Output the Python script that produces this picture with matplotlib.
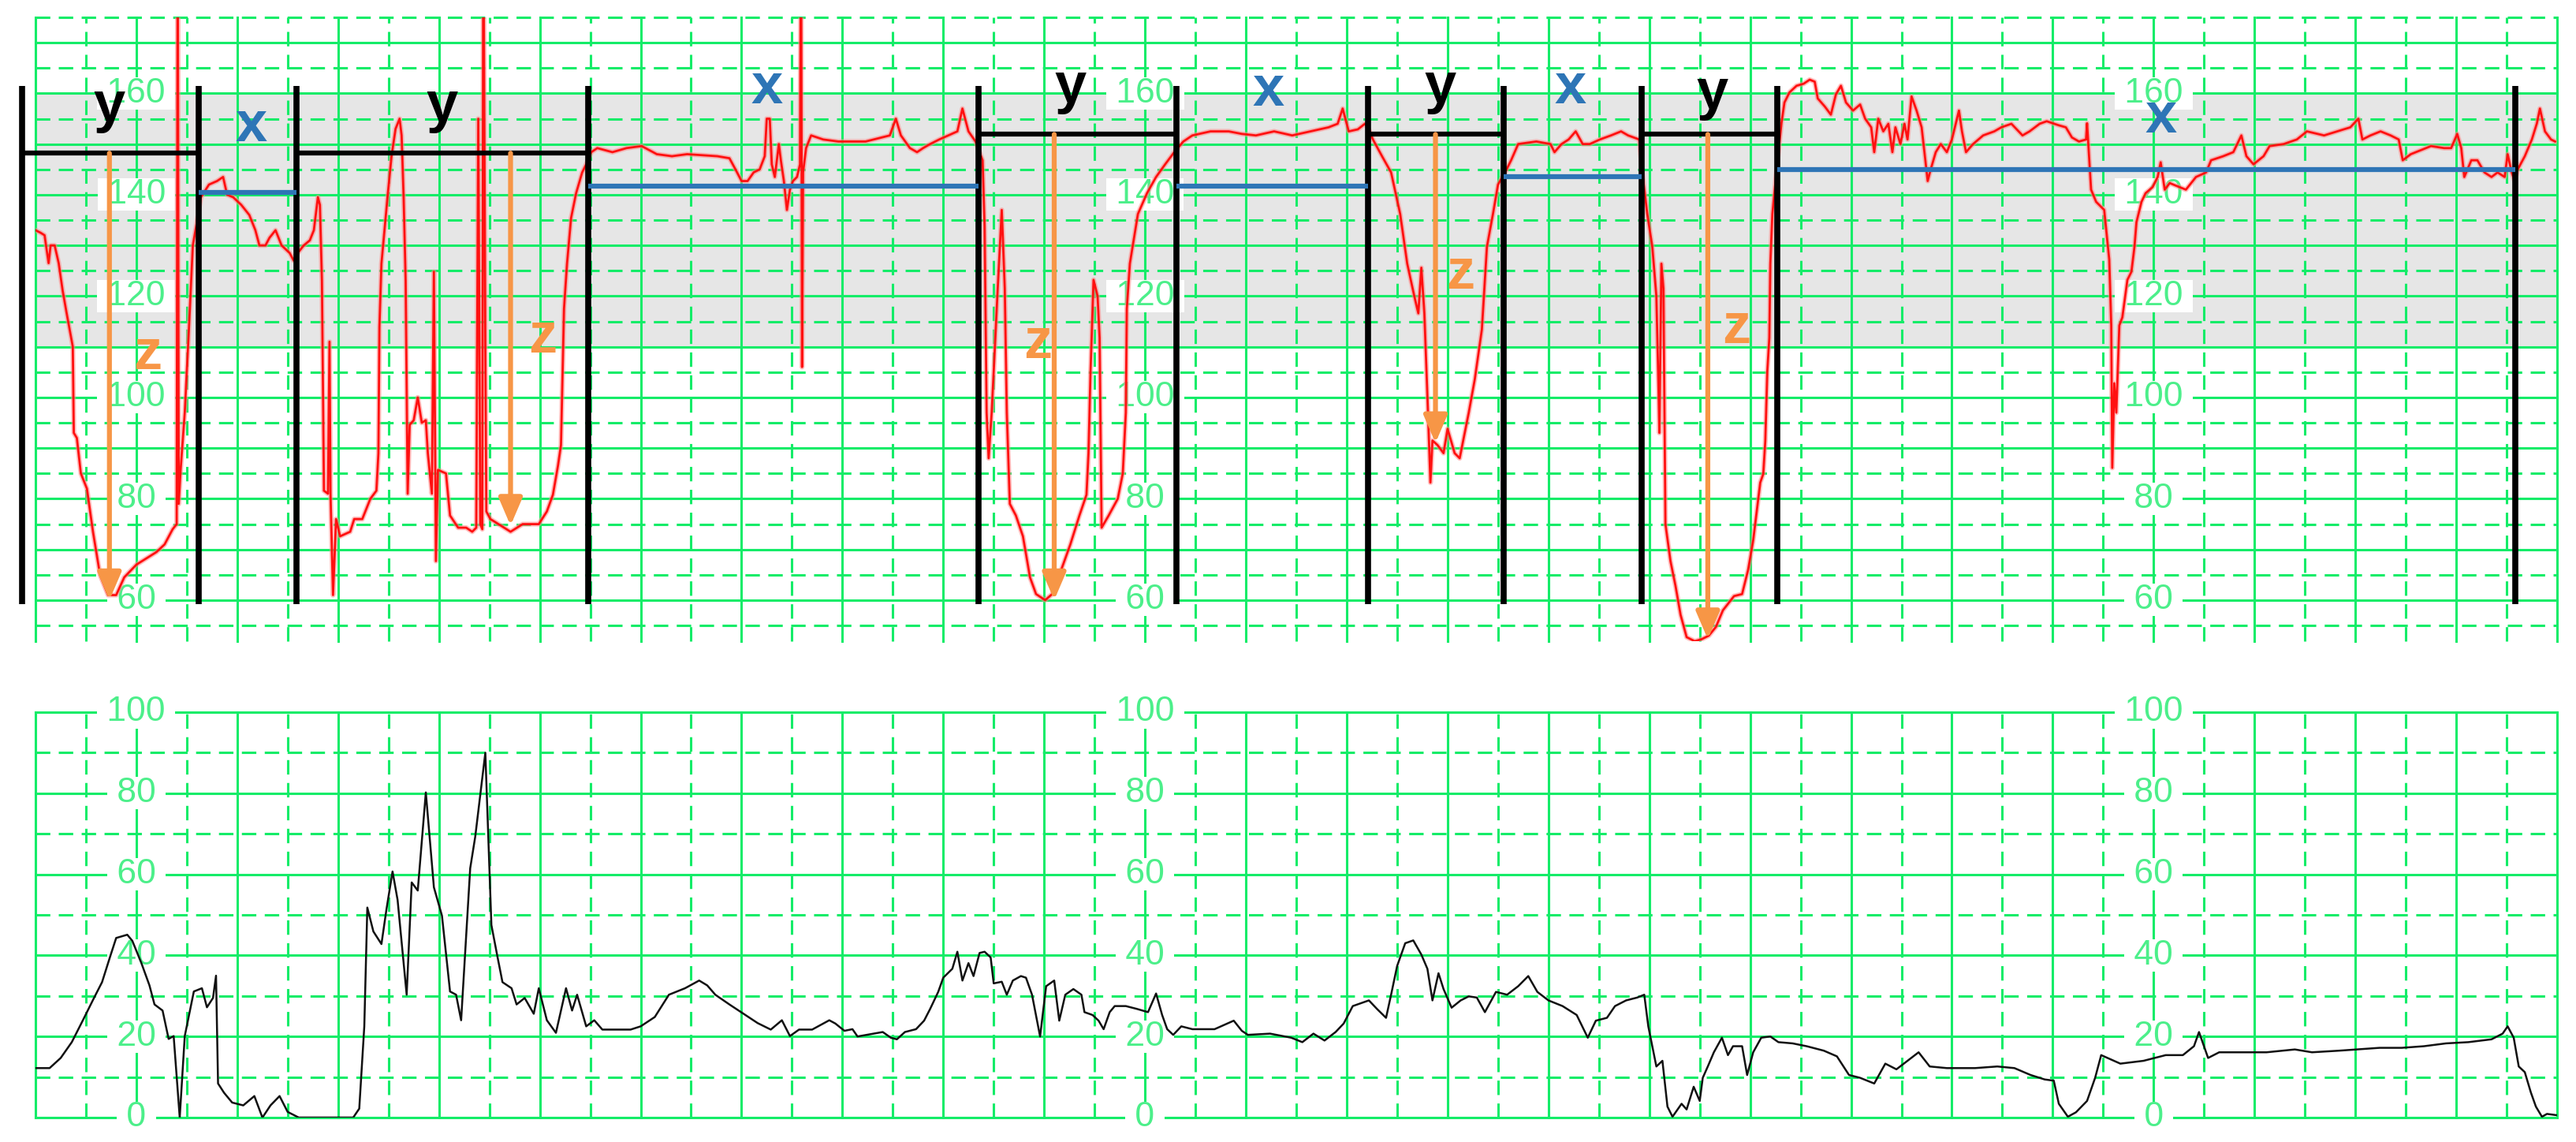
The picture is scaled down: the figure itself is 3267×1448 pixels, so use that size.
import matplotlib.pyplot as plt

plt.rcParams['font.family'] = ['Liberation Sans', 'DejaVu Sans']

# fetal heart rate trace (minutes, bpm)
fhr_t = [0.00, 0.05, 0.09, 0.13, 0.15, 0.19, 0.23, 0.27, 0.31, 0.37, 0.38, 0.41, 0.45, 0.51, 0.57,
         0.64, 0.72, 0.80, 0.88, 1.00, 1.08, 1.20, 1.28, 1.36, 1.40, 1.41, 1.42, 1.44, 1.48, 1.52,
         1.56, 1.60, 1.64, 1.72, 1.80, 1.86, 1.90, 1.96, 2.04, 2.12, 2.18, 2.22, 2.28, 2.32, 2.38,
         2.44, 2.52, 2.56, 2.60, 2.66, 2.72, 2.76, 2.80, 2.82, 2.84, 2.86, 2.90, 2.915, 2.925, 2.95,
         2.98, 3.02, 3.12, 3.16, 3.24, 3.28, 3.32, 3.38, 3.40, 3.41, 3.43, 3.49, 3.53, 3.57, 3.61,
         3.63, 3.65, 3.67, 3.69, 3.71, 3.75, 3.79, 3.83, 3.87, 3.89, 3.93, 3.95, 3.97, 3.99, 4.07,
         4.11, 4.19, 4.27, 4.33, 4.37, 4.39, 4.41, 4.43, 4.44, 4.46, 4.47, 4.51, 4.59, 4.71, 4.83,
         4.99, 5.07, 5.13, 5.18, 5.21, 5.24, 5.27, 5.31, 5.36, 5.42, 5.46, 5.51, 5.57, 5.72, 5.86,
         6.01, 6.16, 6.31, 6.46, 6.61, 6.76, 6.88, 6.94, 7.00, 7.06, 7.12, 7.18, 7.23, 7.25, 7.28,
         7.30, 7.33, 7.37, 7.39, 7.42, 7.45, 7.48, 7.51, 7.55, 7.58, 7.59, 7.60, 7.61, 7.64, 7.69,
         7.81, 7.96, 8.11, 8.23, 8.47, 8.53, 8.58, 8.67, 8.74, 8.80, 8.87, 8.96, 9.05, 9.14, 9.19,
         9.25, 9.32, 9.39, 9.41, 9.43, 9.45, 9.48, 9.50, 9.54, 9.58, 9.61, 9.63, 9.66, 9.72, 9.79,
         9.86, 9.92, 10.01, 10.08, 10.17, 10.26, 10.35, 10.42, 10.44, 10.46, 10.49, 10.53, 10.55, 10.57, 10.64,
         10.73, 10.78, 10.81, 10.82, 10.85, 10.89, 10.93, 11.02, 11.11, 11.20, 11.29, 11.38, 11.47, 11.65, 11.83,
         11.96, 12.10, 12.28, 12.46, 12.64, 12.82, 12.91, 12.96, 13.02, 13.11, 13.18, 13.21, 13.26, 13.35, 13.44,
         13.53, 13.60, 13.67, 13.71, 13.74, 13.77, 13.80, 13.83, 13.85, 13.90, 13.96, 14.00, 14.07, 14.12, 14.16,
         14.21, 14.27, 14.34, 14.39, 14.45, 14.50, 14.57, 14.63, 14.70, 14.88, 15.02, 15.06, 15.13, 15.20, 15.27,
         15.34, 15.41, 15.51, 15.62, 15.72, 15.79, 15.90, 15.93, 15.98, 16.03, 16.07, 16.09, 16.10, 16.12, 16.14,
         16.16, 16.21, 16.26, 16.31, 16.37, 16.45, 16.52, 16.59, 16.66, 16.73, 16.84, 16.92, 16.98, 17.03, 17.06,
         17.10, 17.13, 17.15, 17.17, 17.19, 17.20, 17.22, 17.26, 17.31, 17.34, 17.39, 17.46, 17.53, 17.59, 17.64,
         17.67, 17.74, 17.80, 17.85, 17.90, 17.95, 18.02, 18.09, 18.14, 18.20, 18.23, 18.27, 18.32, 18.37, 18.41,
         18.44, 18.49, 18.53, 18.56, 18.60, 18.65, 18.70, 18.76, 18.79, 18.84, 18.89, 18.95, 19.00, 19.07, 19.10,
         19.14, 19.21, 19.31, 19.42, 19.49, 19.59, 19.70, 19.77, 19.87, 19.94, 20.06, 20.13, 20.19, 20.26, 20.33,
         20.34, 20.36, 20.38, 20.43, 20.51, 20.56, 20.58, 20.59, 20.61, 20.63, 20.66, 20.69, 20.74, 20.78, 20.81,
         20.83, 20.88, 20.92, 20.99, 21.04, 21.07, 21.11, 21.16, 21.22, 21.32, 21.42, 21.52, 21.57, 21.69, 21.79,
         21.87, 21.92, 21.99, 22.09, 22.15, 22.29, 22.42, 22.52, 22.69, 22.82, 22.95, 23.03, 23.07, 23.15, 23.25,
         23.35, 23.43, 23.47, 23.55, 23.65, 23.75, 23.88, 23.95, 24.01, 24.05, 24.08, 24.15, 24.21, 24.28, 24.35,
         24.41, 24.48, 24.51, 24.55, 24.58, 24.61, 24.68, 24.75, 24.80, 24.83, 24.88, 24.94, 24.98]
fhr_bpm = [133, 132.5, 132, 126.5, 130, 130, 126.5, 121, 116.5, 110, 93, 92, 85, 82, 73.5,
           65, 61, 61, 64.5, 67, 68, 69.5, 71, 74, 75, 200, 79, 86, 97, 113,
           130, 134.5, 139.5, 142, 142.7, 143.5, 140, 139.5, 138, 136, 133, 130, 130, 131.5, 133,
           130, 128.5, 127, 128.5, 130, 131, 133, 139.5, 138, 123, 81.6, 81, 111, 81, 61,
           76, 72.6, 73.5, 76, 76, 78, 80, 81.6, 89, 114, 126.4, 139.5, 147.6, 153, 155,
           151.7, 139.5, 123, 81, 94.6, 95.5, 100, 95, 95.5, 89, 81, 124.8, 67.7, 85.7, 85,
           76.7, 74.3, 74.3, 73.5, 74.3, 155, 75, 74, 200, 110, 77.5, 76, 75, 73.5, 75,
           75, 77.5, 80.8, 86.5, 90.6, 117.5, 126.4, 135.4, 140.3, 144.4, 146, 148.4, 149.2, 148.4, 149.2,
           149.6, 148, 147.6, 148, 147.8, 147.6, 147.2, 145, 142.7, 142.7, 144.4, 145, 147.6, 155, 155,
           146, 143.5, 150, 146.8, 142.7, 137, 141, 142.7, 143.5, 146, 200, 106, 144.4, 149.2, 151.7,
           150.9, 150.5, 150.5, 150.5, 151.7, 155, 151.7, 149.2, 148.4, 149.2, 150, 150.9, 151.7, 152.5, 157,
           152.5, 150.5, 146.8, 133.8, 97, 88, 97, 105, 121.5, 137, 121.5, 97, 79, 76.7, 72.6,
           64.5, 61.2, 60, 61.2, 66, 71, 76.7, 80.8, 89, 105, 123.2, 120, 111.8, 74.3, 76.7,
           80, 85, 97, 117.5, 126.4, 131.3, 136.2, 140.3, 143.5, 146, 148.4, 150.5, 151.7, 152.5, 152.5,
           152, 151.7, 152.5, 151.7, 152.5, 153.3, 154, 157, 152.5, 152.9, 154, 153.3, 150.9, 147.6, 144.4,
           136.2, 126.4, 120, 116.6, 125.6, 116.6, 100.3, 83.2, 91.5, 90.6, 89, 93.8, 89, 88, 92,
           97, 103.6, 113.4, 129.7, 136.2, 142, 144.4, 146.8, 150, 150.5, 150, 148.4, 150, 150.9, 152.5,
           150, 150, 150.9, 151.7, 152.5, 151.7, 150.9, 144.4, 136.2, 129.7, 120, 102.8, 93, 126.4, 121.5,
           75, 67.7, 62.8, 57.1, 52.7, 51.9, 52.3, 53, 54.7, 58, 60.8, 61.2, 66, 71.8, 76.7,
           83.2, 84.9, 91.4, 105.2, 111.8, 126.4, 136.2, 144.4, 154.1, 158.2, 160.2, 161.5, 161.9, 162.7, 162.3,
           159, 157.4, 155.8, 159.8, 161.5, 158.2, 156.6, 157.8, 155, 153.3, 148.4, 155, 152.5, 154, 148.4,
           153.3, 150, 154, 150.9, 159.4, 156.6, 153.3, 142.7, 145, 148.4, 150, 148.4, 150.9, 156.6, 152.5,
           148.4, 150, 151.7, 152.5, 153.3, 154, 151.7, 152.5, 154, 154.5, 153.7, 153.3, 151.3, 150.5, 150.9,
           154.1, 147.6, 141, 138.6, 137, 127.2, 114.2, 86.1, 102.8, 97, 114.2, 115.8, 123.2, 124.8, 129.7,
           134.6, 138.6, 140.3, 141.5, 143.5, 146.4, 141, 142.3, 141.8, 141, 143.5, 144.4, 146.8, 147.6, 148.4,
           151.7, 147.6, 146, 147.6, 149.6, 150, 150.9, 152.5, 151.7, 152.5, 153.3, 155, 150.9, 151.7, 152.5,
           151.7, 150.9, 146.8, 148, 148.8, 149.6, 149.2, 149.2, 152, 149.2, 143.5, 146.8, 146.8, 144.4, 143.5,
           144.4, 143.5, 148, 144.4, 142.7, 145, 147.6, 150.9, 154.1, 157, 152.5, 150.9, 150.5]

# uterine activity trace (minutes, units)
toco_t = [0.00, 0.14, 0.25, 0.36, 0.47, 0.58, 0.66, 0.74, 0.80, 0.91, 0.96, 1.05, 1.13, 1.18, 1.26,
          1.32, 1.37, 1.43, 1.48, 1.57, 1.65, 1.70, 1.76, 1.79, 1.81, 1.87, 1.95, 2.06, 2.17, 2.25,
          2.33, 2.42, 2.50, 2.61, 3.15, 3.21, 3.26, 3.29, 3.35, 3.43, 3.48, 3.54, 3.59, 3.68, 3.73,
          3.79, 3.87, 3.95, 4.03, 4.11, 4.17, 4.22, 4.31, 4.36, 4.46, 4.52, 4.58, 4.63, 4.72, 4.77,
          4.85, 4.94, 4.99, 5.07, 5.16, 5.21, 5.26, 5.32, 5.37, 5.46, 5.54, 5.62, 5.90, 6.00, 6.14,
          6.28, 6.44, 6.58, 6.66, 6.74, 6.88, 7.02, 7.16, 7.29, 7.40, 7.48, 7.57, 7.70, 7.87, 7.93,
          8.02, 8.10, 8.15, 8.40, 8.48, 8.54, 8.62, 8.73, 8.81, 8.87, 8.95, 9.00, 9.09, 9.14, 9.19,
          9.25, 9.30, 9.36, 9.41, 9.47, 9.50, 9.58, 9.63, 9.69, 9.77, 9.82, 9.88, 9.96, 10.02, 10.10,
          10.15, 10.21, 10.29, 10.37, 10.40, 10.48, 10.54, 10.59, 10.65, 10.70, 10.81, 10.92, 11.03, 11.11, 11.17,
          11.22, 11.28, 11.36, 11.47, 11.69, 11.88, 11.96, 12.02, 12.24, 12.45, 12.56, 12.67, 12.78, 12.89, 12.97,
          13.06, 13.14, 13.22, 13.30, 13.39, 13.44, 13.50, 13.58, 13.66, 13.74, 13.80, 13.85, 13.91, 13.96, 14.04,
          14.13, 14.21, 14.29, 14.37, 14.48, 14.59, 14.70, 14.80, 14.89, 15.00, 15.14, 15.28, 15.39, 15.47, 15.58,
          15.66, 15.77, 15.88, 15.95, 15.99, 16.07, 16.13, 16.18, 16.23, 16.32, 16.37, 16.44, 16.50, 16.53, 16.58,
          16.64, 16.72, 16.78, 16.83, 16.92, 16.97, 17.03, 17.11, 17.20, 17.28, 17.42, 17.56, 17.73, 17.86, 17.98,
          18.09, 18.23, 18.34, 18.45, 18.56, 18.67, 18.78, 18.95, 19.23, 19.45, 19.62, 19.78, 19.92, 20.01, 20.06,
          20.15, 20.23, 20.34, 20.42, 20.48, 20.67, 20.90, 21.12, 21.29, 21.40, 21.45, 21.54, 21.65, 21.84, 22.12,
          22.40, 22.57, 22.84, 23.01, 23.24, 23.46, 23.68, 23.90, 24.12, 24.35, 24.46, 24.51, 24.57, 24.62, 24.68,
          24.74, 24.79, 24.85, 24.90, 24.99]
toco_v = [12.2, 12.2, 14.7, 18.6, 24, 29.5, 33.4, 39.7, 44.3, 45.1, 43.6, 38.1, 32.6, 27.9, 26.4,
          19.4, 20.1, 0, 20.1, 31.1, 31.9, 27.2, 29.5, 35, 8.4, 6.1, 3.7, 3, 5.3, 0,
          3, 5.3, 1.4, 0, 0, 2.2, 22.5, 51.8, 45.9, 42.8, 51.4, 60.7, 53.7, 30.3, 58,
          56, 80.2, 56.8, 49.8, 31.1, 30.3, 24, 61.5, 69.3, 90, 47.5, 39.7, 33.4, 31.9, 27.9,
          29.5, 25.6, 31.9, 24, 20.9, 26.4, 31.9, 26.4, 30.3, 22.5, 24, 21.7, 21.7, 22.5, 24.8,
          30.3, 31.9, 33.8, 32.6, 30.3, 27.9, 25.6, 23.3, 21.7, 24, 20.1, 21.7, 21.7, 24, 23.2,
          21.4, 21.8, 20, 21.1, 19.7, 19.3, 21.1, 21.8, 23.9, 26.8, 31, 34.5, 36.7, 40.9, 33.8,
          38.1, 34.9, 40.6, 40.9, 39.5, 33.1, 33.5, 30.3, 33.8, 34.9, 34.5, 30.3, 20, 32.4, 33.8,
          23.9, 30.3, 31.7, 30.3, 26, 25.3, 23.9, 21.8, 26, 27.5, 27.5, 26.8, 26, 30.6, 25.3,
          21.8, 20.4, 22.5, 21.8, 21.8, 23.9, 21.4, 20.4, 20.7, 19.7, 18.6, 20.7, 19, 21.1, 23.2,
          27.5, 28.2, 28.9, 26.8, 24.6, 30.3, 37.4, 43, 43.7, 40.2, 36.7, 28.9, 35.6, 31.7, 27.1,
          28.9, 29.9, 29.6, 26, 31, 30.3, 32.4, 34.9, 31, 28.9, 27.5, 25.3, 19.7, 23.9, 24.6,
          27.5, 28.9, 29.6, 30.3, 22.5, 12.6, 14, 2.7, 0.2, 3.4, 2, 7.6, 4.1, 9.8, 12.6,
          16.1, 19.7, 15.4, 17.6, 17.6, 10.5, 16.1, 19.7, 20, 18.6, 18.3, 17.6, 16.5, 15.1, 10.5,
          9.8, 8.4, 13.3, 11.9, 14, 16.1, 12.6, 12.2, 12.2, 12.6, 12.2, 10.5, 9.4, 9.1, 3.4,
          0.2, 1.3, 4.1, 9.8, 15.4, 13.3, 14, 15.4, 15.4, 17.6, 21.1, 14.7, 16.1, 16.1, 16.1,
          16.8, 16.1, 16.5, 16.8, 17.2, 17.2, 17.6, 18.3, 18.6, 19.3, 20.7, 22.5, 19.7, 12.6, 11.2,
          6.2, 2.7, 0.2, 0.9, 0.6]

label_t = [1, 11, 21]
fhr_labels = [160, 140, 120, 100, 80, 60]
toco_labels = [100, 80, 60, 40, 20, 0]

# annotation overlay
bar_t = [-0.133, 1.617, 2.590, 5.477, 9.352, 11.313, 13.211, 14.555, 15.922, 17.266, 24.586]
y_start = [-0.133, 2.590, 9.352, 13.211, 15.922]
y_end = [1.617, 5.477, 11.313, 14.555, 17.266]
y_level = [148.2, 148.2, 151.9, 151.9, 151.9]
x_start = [1.617, 5.477, 11.313, 14.555, 17.266]
x_end = [2.590, 9.352, 13.211, 15.922, 24.586]
x_level = [140.5, 141.7, 141.7, 143.5, 145.0]
z_t = [0.733, 4.71, 10.10, 13.88, 16.58]
z_tip = [60.0, 74.7, 60.0, 91.0, 52.3]
y_lab = [(0.733, 154.4), (4.03, 154.5), (10.26, 158.2), (13.93, 158.2), (16.62, 157.0)]
x_lab = [(2.14, 150.5), (7.254, 158.0), (12.22, 157.6), (15.22, 158.0), (21.07, 152.3)]
z_lab = [(1.115, 105.6), (5.03, 108.9), (9.937, 107.8), (14.125, 121.5), (16.86, 110.8)]

GRID = '#14ec68'
LABEL = '#4cef8a'
BLUE = '#2e75b6'
ORANGE = '#f79646'
DASH = (0, (6, 3.5))

fig = plt.figure(figsize=(32.67, 14.48), dpi=100)
ax1 = fig.add_axes([45 / 3267, 1 - 813 / 1448, 3198 / 3267, 791 / 1448])
ax2 = fig.add_axes([45 / 3267, 1 - 1417 / 1448, 3198 / 3267, 514 / 1448])


def paper(ax, lo, hi, hlines, solid_every, labels):
    ax.set_xlim(0, 25)
    ax.set_ylim(lo, hi)
    ax.axis('off')
    for k in range(51):
        ax.axvline(k * 0.5, color=GRID, lw=2.2, ls='-' if k % 2 == 0 else DASH,
                   zorder=1, clip_on=False)
    for v in hlines:
        ax.axhline(v, color=GRID, lw=2.2, ls='-' if v % solid_every == 0 else DASH,
                   zorder=1, clip_on=False)
    for t in label_t:
        for v in labels:
            ax.text(t, v, f' {v} ', ha='center', va='center', fontsize=32, color=LABEL,
                    bbox=dict(boxstyle='square,pad=0', fc='white', ec='none'), zorder=2)


ax1.axhspan(110, 160, color='#e6e6e6', lw=0, zorder=0)
paper(ax1, 51.9, 175, range(55, 176, 5), 10, fhr_labels)
paper(ax2, 0, 100, range(0, 101, 10), 20, toco_labels)

ax1.plot(fhr_t, fhr_bpm, color='#ff8a8a', lw=4.5, alpha=0.55, zorder=3)
ax1.plot(fhr_t, fhr_bpm, color='#ff1010', lw=2.0, zorder=3.1)
ax2.plot(toco_t, toco_v, color='#111111', lw=1.8, zorder=3)

ax1.vlines(bar_t, 59.2, 161.5, color='black', lw=5.5, zorder=5, clip_on=False)
ax1.hlines(y_level, y_start, y_end, color='black', lw=4.5, zorder=5, clip_on=False)
ax1.hlines(x_level, x_start, x_end, color=BLUE, lw=4.5, zorder=5)
for t, tip, top in zip(z_t, z_tip, [148.2, 148.2, 151.9, 151.9, 151.9]):
    ax1.annotate('', xy=(t, tip), xytext=(t, top), zorder=6, annotation_clip=False,
                 arrowprops=dict(arrowstyle='-|>,head_length=0.7,head_width=0.3',
                                 color=ORANGE, lw=4.5, shrinkA=0, shrinkB=0,
                                 mutation_scale=30))

for t, v in y_lab:
    ax1.text(t, v, 'y', fontsize=52, fontweight='bold', color='black',
             ha='center', va='baseline', zorder=7)
for t, v in x_lab:
    ax1.text(t, v, 'x', fontsize=52, fontweight='bold', color=BLUE,
             ha='center', va='baseline', zorder=7)
for t, v in z_lab:
    ax1.text(t, v, 'z', fontsize=52, fontweight='bold', color=ORANGE,
             ha='center', va='baseline', zorder=7)

fig.savefig('out.png', dpi=100, facecolor='white')
